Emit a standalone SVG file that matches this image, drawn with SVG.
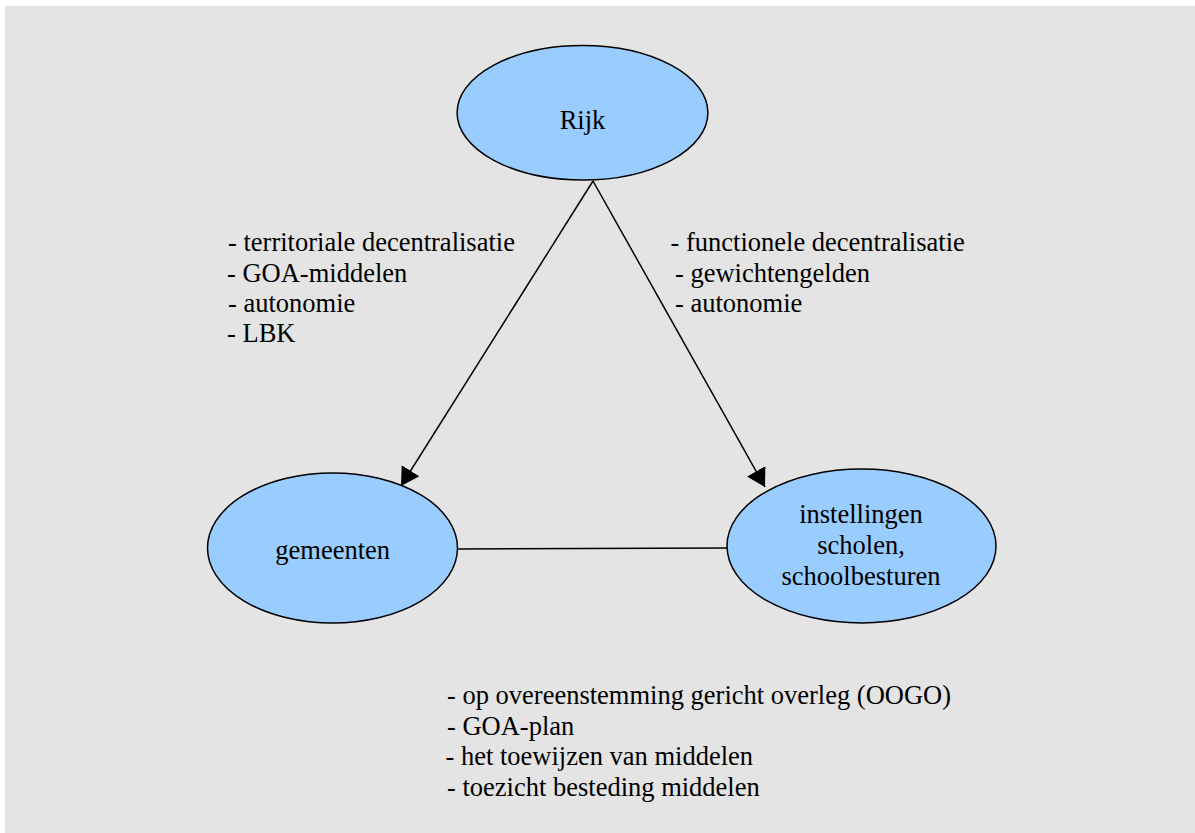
<svg xmlns="http://www.w3.org/2000/svg" width="1195" height="833" viewBox="0 0 1195 833">
<style>
.node{fill:#99ccff;stroke:#000;stroke-width:1.5}
.edge{stroke:#000;stroke-width:1.5;fill:none}
</style>
<defs>
<marker id="arr" markerUnits="userSpaceOnUse" markerWidth="20" markerHeight="22" refX="18" refY="10.5" orient="auto" viewBox="0 0 20 22">
<path d="M0,0 L18,10.5 L0,21 z" fill="#000"/>
</marker>
</defs>
<rect x="5" y="6" width="1190" height="827" fill="#e4e4e4"/>
<g id="connectors">
<line class="edge" x1="593" y1="181" x2="401" y2="486" marker-end="url(#arr)"/>
<line class="edge" x1="593" y1="181" x2="765" y2="487" marker-end="url(#arr)"/>
<line class="edge" x1="458" y1="549" x2="729" y2="548"/>
</g>
<g font-family="Liberation Serif, Times New Roman, serif" font-size="26.5" fill="#000">
<g id="rijk">
<ellipse class="node" cx="582.5" cy="112.7" rx="125.4" ry="67.3"/>
<text text-anchor="middle" x="582.5" y="129">Rijk</text>
</g>
<g id="gemeenten">
<ellipse class="node" cx="332.5" cy="548" rx="125" ry="75"/>
<text text-anchor="middle" x="332.7" y="559">gemeenten</text>
</g>
<g id="instellingen">
<ellipse class="node" cx="861.5" cy="546" rx="134.5" ry="77"/>
<text text-anchor="middle" x="861" y="523">instellingen</text>
<text text-anchor="middle" x="861" y="553.5">scholen,</text>
<text text-anchor="middle" x="861" y="585">schoolbesturen</text>
</g>
<g id="label-left">
<text x="228" y="250.7">- territoriale decentralisatie</text>
<text x="227" y="281.7">- GOA-middelen</text>
<text x="228" y="311.7">- autonomie</text>
<text x="227" y="341.7">- LBK</text>
</g>
<g id="label-right">
<text x="670.5" y="250.7">- functionele decentralisatie</text>
<text x="675" y="281.7">- gewichtengelden</text>
<text x="675" y="311.7">- autonomie</text>
</g>
<g id="label-bottom">
<text x="447" y="704">- op overeenstemming gericht overleg (OOGO)</text>
<text x="447" y="735">- GOA-plan</text>
<text x="445.5" y="765">- het toewijzen van middelen</text>
<text x="447" y="795.7">- toezicht besteding middelen</text>
</g>
</g>
</svg>
